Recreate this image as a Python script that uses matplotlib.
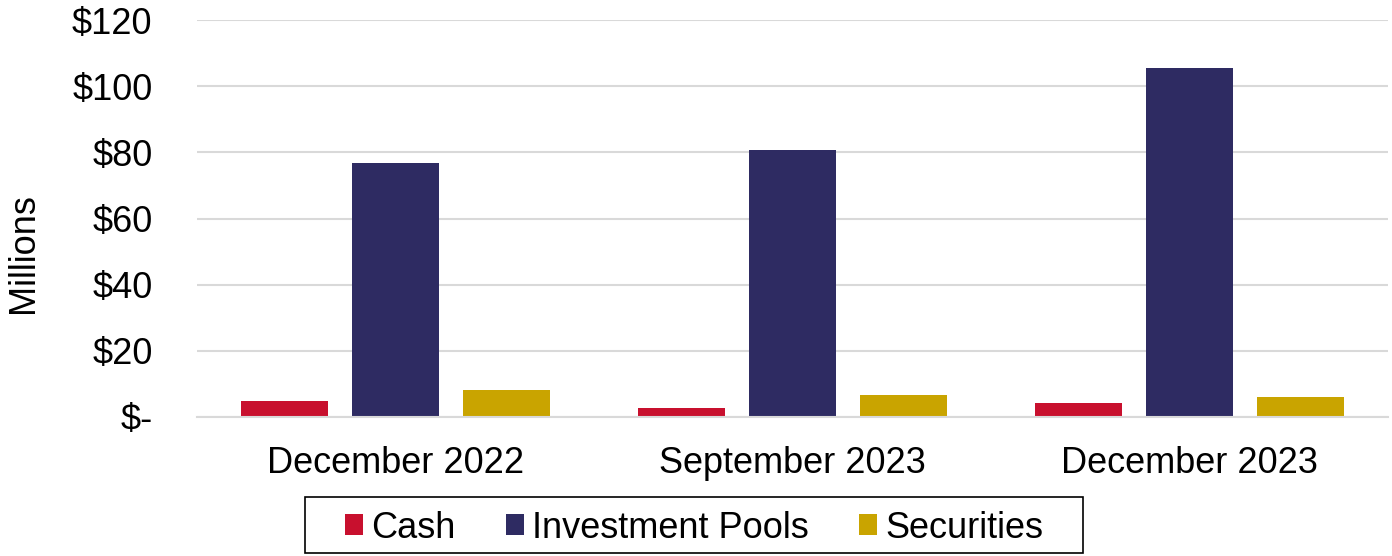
import matplotlib
matplotlib.use("Agg")
import matplotlib.pyplot as plt
from matplotlib.patches import Rectangle
import numpy as np

categories = ["December 2022", "September 2023", "December 2023"]
series_names = ["Cash", "Investment Pools", "Securities"]
cash = [4.8, 2.7, 4.2]
investment_pools = [76.7, 80.7, 105.4]
securities = [8.2, 6.6, 6.0]
colors = ["#C8102E", "#2E2B62", "#C9A400"]
yticks = [0, 20, 40, 60, 80, 100, 120]
ytick_labels = ["$-", "$20", "$40", "$60", "$80", "$100", "$120"]

plt.rcParams['font.family'] = ['Liberation Sans', 'DejaVu Sans']
FS = 26
W, H = 1392, 556

fig = plt.figure(figsize=(13.92, 5.56), dpi=100)
ax = fig.add_axes([0.1415, 0.25, 0.8555, 0.714])

x = np.arange(len(categories))
width = 0.22
step = 0.28
for i, (vals, name, c) in enumerate(zip([cash, investment_pools, securities], series_names, colors)):
    ax.bar(x + (i - 1) * step, vals, width, color=c, label=name, zorder=3)

ax.set_xlim(-0.5, 2.5)
ax.set_ylim(0, 120)
ax.set_yticks(yticks)
ax.set_yticklabels(ytick_labels)
ax.set_xticks(x)
ax.set_xticklabels(categories)
ax.tick_params(axis='both', length=0, labelsize=FS)
ax.tick_params(axis='y', pad=32)
ax.tick_params(axis='x', pad=21)
ax.grid(axis='y', color='#d9d9d9', linewidth=1.5, zorder=0)
for s in ['top', 'right', 'left']:
    ax.spines[s].set_visible(False)
ax.spines['bottom'].set_color('#d9d9d9')
ax.spines['bottom'].set_linewidth(1.5)
ax.spines['bottom'].set_zorder(4)

fig.text(23 / W, 1 - 253 / H, "Millions", rotation=90, va='center', ha='center', fontsize=FS)

leg = fig.legend(loc='center', bbox_to_anchor=(0.4986, 1 - 528 / H), ncol=3, fontsize=FS,
                 frameon=False, handlelength=0.5,
                 handleheight=0.5, handletextpad=0.22, columnspacing=1.4, borderpad=0.3,
                 borderaxespad=0)

fig.patches.append(Rectangle((305 / W, 1 - 553 / H), 778 / W, 56 / H, transform=fig.transFigure,
                             fill=False, edgecolor='black', linewidth=1.2, figure=fig))

fig.savefig("out.png", dpi=100)
